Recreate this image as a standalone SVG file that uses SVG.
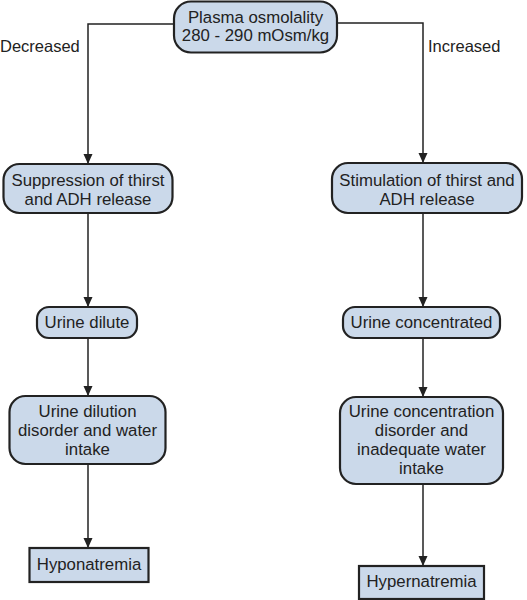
<svg xmlns="http://www.w3.org/2000/svg" width="527" height="600" viewBox="0 0 527 600">
<defs>
<marker id="ah" markerWidth="10" markerHeight="12" refX="10" refY="6" orient="auto" markerUnits="userSpaceOnUse">
<path d="M0,1.5 L10,6 L0,10.5 Z" fill="#222"/>
</marker>
<style>
.box{fill:#cbd9ea;stroke:#222;stroke-width:2.2}
.t{font-family:"Liberation Sans",Arial,sans-serif;font-size:16.8px;fill:#222;text-anchor:middle}
.lbl{font-family:"Liberation Sans",Arial,sans-serif;font-size:16.5px;fill:#222}
.c{fill:none;stroke:#222;stroke-width:1.5}
</style>
</defs>
<rect width="527" height="600" fill="#fff"/>
<g id="connectors">
<polyline class="c" points="174,24 88,24 88,164" marker-end="url(#ah)"/>
<polyline class="c" points="337,23 423,23 423,163" marker-end="url(#ah)"/>
<line class="c" x1="88" y1="213" x2="88" y2="307" marker-end="url(#ah)"/>
<line class="c" x1="423" y1="213" x2="423" y2="307" marker-end="url(#ah)"/>
<line class="c" x1="88" y1="338" x2="88" y2="396" marker-end="url(#ah)"/>
<line class="c" x1="423" y1="338" x2="423" y2="397" marker-end="url(#ah)"/>
<line class="c" x1="88" y1="464" x2="88" y2="548" marker-end="url(#ah)"/>
<line class="c" x1="423" y1="484" x2="423" y2="566" marker-end="url(#ah)"/>
</g>
<g id="lbl-decreased"><text class="lbl" x="0" y="52">Decreased</text></g>
<g id="lbl-increased"><text class="lbl" x="428" y="52">Increased</text></g>
<g id="n-plasma">
<rect class="box" x="174" y="1.5" width="163" height="51" rx="17"/>
<text class="t" x="255.5" y="23">Plasma osmolality</text>
<text class="t" x="255.5" y="41">280 - 290 mOsm/kg</text>
</g>
<g id="n-suppression">
<rect class="box" x="3.5" y="164" width="169" height="49" rx="16"/>
<text class="t" x="88" y="186">Suppression of thirst</text>
<text class="t" x="88" y="205">and ADH release</text>
</g>
<g id="n-stimulation">
<rect class="box" x="332" y="163" width="190" height="50" rx="16"/>
<text class="t" x="427" y="186">Stimulation of thirst and</text>
<text class="t" x="427" y="205">ADH release</text>
</g>
<g id="n-dilute">
<rect class="box" x="37" y="307" width="100" height="31" rx="12"/>
<text class="t" x="87" y="328">Urine dilute</text>
</g>
<g id="n-concentrated">
<rect class="box" x="343" y="307" width="157" height="31" rx="12"/>
<text class="t" x="421.5" y="328">Urine concentrated</text>
</g>
<g id="n-dilution-disorder">
<rect class="box" x="9.5" y="396" width="156" height="68" rx="16"/>
<text class="t" x="87.5" y="417">Urine dilution</text>
<text class="t" x="87.5" y="436">disorder and water</text>
<text class="t" x="87.5" y="455">intake</text>
</g>
<g id="n-concentration-disorder">
<rect class="box" x="340" y="397" width="163" height="87" rx="16"/>
<text class="t" x="421.5" y="417">Urine concentration</text>
<text class="t" x="421.5" y="436">disorder and</text>
<text class="t" x="421.5" y="455">inadequate water</text>
<text class="t" x="421.5" y="474">intake</text>
</g>
<g id="n-hypo">
<rect class="box" x="29.5" y="548" width="119" height="34"/>
<text class="t" x="89" y="570">Hyponatremia</text>
</g>
<g id="n-hyper">
<rect class="box" x="359" y="566" width="125" height="33"/>
<text class="t" x="421.5" y="587">Hypernatremia</text>
</g>
</svg>
